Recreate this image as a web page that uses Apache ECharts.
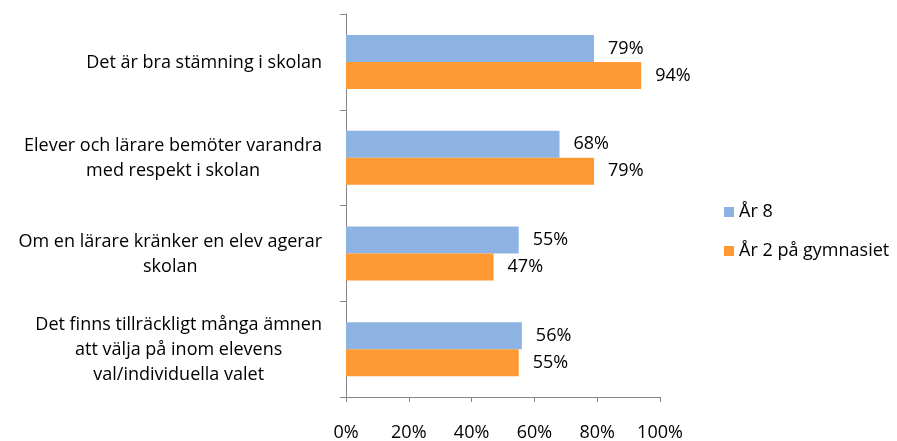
<!DOCTYPE html>
<html>
<head>
<meta charset="utf-8">
<script src="https://cdn.jsdelivr.net/npm/echarts@6/dist/echarts.min.js"></script>
<style>
  html, body { margin: 0; padding: 0; background: #fff; }
  #chart { width: 897px; height: 441px; }
</style>
</head>
<body>
<div id="chart"></div>
<script>
const categories = [
  'Det är bra stämning i skolan',
  'Elever och lärare bemöter varandra\nmed respekt i skolan',
  'Om en lärare kränker en elev agerar\nskolan',
  'Det finns tillräckligt många ämnen\natt välja på inom elevens\nval/individuella valet'
]
const ar8 = [79, 68, 55, 56]
const ar2Gymnasiet = [94, 79, 47, 55]
const tickStep = 20

const font = '"Open Sans", sans-serif'
const fs = 18
const axisGray = '#868686'

const chart = echarts.init(document.getElementById('chart'))

const labelStyle = {
  show: true,
  position: 'right',
  distance: 14,
  color: '#000',
  fontFamily: font,
  fontSize: fs,
  formatter: p => p.value + '%'
}

chart.setOption({
  animation: false,
  textStyle: { fontFamily: font },
  grid: { left: 346, right: 237, top: 14, bottom: 44, outerBoundsMode: 'none' },
  legend: {
    orient: 'vertical',
    left: 719,
    top: 198,
    itemWidth: 10,
    itemHeight: 10,
    itemGap: 21,
    icon: 'rect',
    textStyle: { fontFamily: font, fontSize: fs, color: '#000' },
    data: ['År 8', 'År 2 på gymnasiet']
  },
  xAxis: {
    type: 'value',
    min: 0,
    max: 100,
    interval: tickStep,
    axisLine: { show: true, lineStyle: { color: axisGray } },
    axisTick: { show: true, length: 5, lineStyle: { color: axisGray } },
    splitLine: { show: false },
    axisLabel: {
      margin: 27,
      color: '#000',
      fontFamily: font,
      fontSize: fs,
      formatter: '{value}%'
    }
  },
  yAxis: {
    type: 'category',
    inverse: true,
    data: categories,
    axisLine: { show: true, lineStyle: { color: axisGray } },
    axisTick: { show: true, length: 6, lineStyle: { color: axisGray } },
    axisLabel: {
      margin: 24,
      color: '#000',
      fontFamily: font,
      fontSize: fs,
      lineHeight: 25,
      padding: [2, 0, 0, 0],
      formatter: v => v.split('\n').map(l => '{c|' + l + '}').join('\n'),
      rich: {
        c: { align: 'center', fontFamily: font, fontSize: fs, lineHeight: 25, color: '#000' }
      }
    }
  },
  series: [
    {
      name: 'År 8',
      type: 'bar',
      data: ar8,
      barWidth: 27,
      barGap: '0%',
      itemStyle: { color: '#8DB3E2' },
      label: labelStyle
    },
    {
      name: 'År 2 på gymnasiet',
      type: 'bar',
      data: ar2Gymnasiet,
      barWidth: 27,
      barGap: '0%',
      itemStyle: { color: '#FF9933' },
      label: labelStyle
    }
  ]
})
</script>
</body>
</html>
